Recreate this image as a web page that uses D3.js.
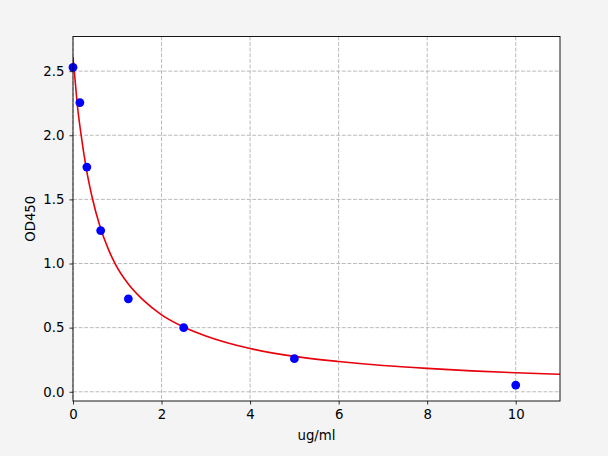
<!DOCTYPE html>
<html>
<head>
<meta charset="utf-8">
<script src="https://cdn.jsdelivr.net/npm/d3@7"></script>
<style>
html,body{margin:0;padding:0;background:#f4f4f4;}
svg{display:block;}
text{font-family:"DejaVu Sans",sans-serif;}
</style>
</head>
<body>
<svg id="chart" width="608" height="456"></svg>
<script>
// Data
const concentrations = [0, 0.156, 0.3125, 0.625, 1.25, 2.5, 5, 10];
const odValues = [2.53, 2.255, 1.752, 1.257, 0.725, 0.50, 0.258, 0.052];
// Fitted curve
const curveX = [0, 0.05, 0.1, 0.18, 0.3, 0.44, 0.6, 0.8, 0.95, 1.25, 1.6, 2, 2.5, 3, 4, 5, 6, 7, 8, 9, 10, 11];
const curveY = [2.61, 2.42, 2.23, 2.01, 1.74, 1.505, 1.30, 1.11, 1.00, 0.84, 0.71, 0.60, 0.505, 0.435, 0.337, 0.276, 0.236, 0.205, 0.182, 0.163, 0.148, 0.136];
const xTicks = [0, 2, 4, 6, 8, 10];
const yTicks = [0.0, 0.5, 1.0, 1.5, 2.0, 2.5];
const xLabel = "ug/ml";
const yLabel = "OD450";

const svg = d3.select("#chart");
const L = 73, R = 560, T = 36.5, B = 401;
const x = d3.scaleLinear().domain([0, 11]).range([L, R]);
const y = d3.scaleLinear().domain([-0.072, 2.77]).range([B, T]);

svg.append("rect").attr("x", L).attr("y", T).attr("width", R - L).attr("height", B - T).attr("fill", "#fff");

const grid = svg.append("g").attr("stroke", "#aaaaaa").attr("stroke-width", 0.8).attr("stroke-dasharray", "3.9,1.7");
grid.selectAll("line.v").data(xTicks).join("line")
  .attr("x1", d => x(d)).attr("x2", d => x(d)).attr("y1", T).attr("y2", B);
grid.selectAll("line.h").data(yTicks).join("line")
  .attr("y1", d => y(d)).attr("y2", d => y(d)).attr("x1", L).attr("x2", R);

const fs = "13.3px";
const xAxis = svg.append("g").attr("transform", `translate(0,${B})`)
  .call(d3.axisBottom(x).tickValues(xTicks).tickSize(3.5).tickPadding(5).tickFormat(d3.format("d")));
const yAxis = svg.append("g").attr("transform", `translate(${L},0)`)
  .call(d3.axisLeft(y).tickValues(yTicks).tickSize(3.5).tickPadding(5).tickFormat(d3.format(".1f")));
[xAxis, yAxis].forEach(a => {
  a.select(".domain").remove();
  a.selectAll(".tick line").attr("stroke", "#000").attr("stroke-width", 0.8);
  a.selectAll(".tick text").attr("font-family", "DejaVu Sans").attr("font-size", fs).attr("fill", "#000");
});

const clip = svg.append("clipPath").attr("id", "clip").append("rect")
  .attr("x", L).attr("y", T).attr("width", R - L).attr("height", B - T);

const line = d3.line().x(d => x(d[0])).y(d => y(d[1])).curve(d3.curveMonotoneX);
svg.append("path").datum(d3.zip(curveX, curveY))
  .attr("d", line).attr("fill", "none").attr("stroke", "#e8000b").attr("stroke-width", 1.6)
  .attr("clip-path", "url(#clip)");

svg.append("g").selectAll("circle").data(d3.zip(concentrations, odValues)).join("circle")
  .attr("cx", d => x(d[0])).attr("cy", d => y(d[1])).attr("r", 4.4).attr("fill", "#0000ff");

svg.append("rect").attr("x", L).attr("y", T).attr("width", R - L).attr("height", B - T)
  .attr("fill", "none").attr("stroke", "#000").attr("stroke-width", 0.9);

svg.append("text").attr("x", (L + R) / 2).attr("y", 440).attr("text-anchor", "middle")
  .attr("font-size", fs).text(xLabel);
svg.append("text").attr("transform", `translate(35,${(T + B) / 2}) rotate(-90)`).attr("text-anchor", "middle")
  .attr("font-size", fs).text(yLabel);
</script>
</body>
</html>
